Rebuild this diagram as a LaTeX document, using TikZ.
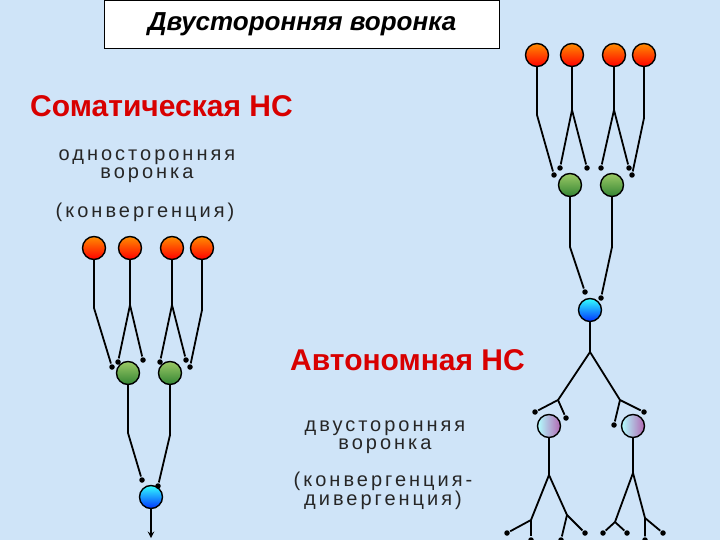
\documentclass[tikz,border=0pt]{standalone}
\usepackage{fontspec}
\setmainfont{Liberation Sans}
\newfontfamily\subfont[LetterSpace=15]{Liberation Sans}
\definecolor{bg}{HTML}{CFE4F8}
\definecolor{hdred}{HTML}{D80000}
\begin{document}
\begin{tikzpicture}[x=1pt,y=-1pt,line width=1.8pt,
  cell/.style={circle,draw=black,line width=1.4pt,minimum size=23pt,inner sep=0pt},
  orn/.style={cell,top color=orange!90!yellow,bottom color=red},
  grn/.style={cell,top color=green!30!olive!60!white,bottom color=green!40!black!80},
  blu/.style={cell,top color=cyan!80,bottom color=blue!80!cyan},
  pur/.style={cell,left color=cyan!30,right color=violet!60},
  syn/.style={circle,fill=black,inner sep=0pt,minimum size=5.5pt},
  hd/.style={text=hdred,font=\bfseries\fontsize{30}{32}\selectfont},
  sub/.style={align=center,text=black!85,font=\subfont\fontsize{20}{18}\selectfont}]
\fill[bg] (0,0) rectangle (720,540);
\useasboundingbox (0,0) rectangle (720,540);
\node[draw=black,line width=0.8pt,fill=white,minimum width=395pt,minimum height=48pt,font=\bfseries\itshape\fontsize{26}{28}\selectfont] (title) at (302,24) {Двусторонняя воронка};
\node[hd,anchor=west] (som) at (26,106) {Соматическая НС};
\node[sub] (t1) at (147,166) {односторонняя\\воронка};
\node[sub] (t2) at (145,212) {(конвергенция)};
\node[hd,anchor=west] (aut) at (286,360) {Автономная НС};
\node[sub] (t3) at (385,437) {двусторонняя\\воронка};
\node[sub] (t4) at (383,491) {(конвергенция-\\дивергенция)};
% left tree
\foreach \n/\x in {a/94,b/130,c/172,d/202} \node[orn] (Lo\n) at (\x,248) {};
\node[grn] (Lg1) at (128,373) {}; \node[grn] (Lg2) at (170,373) {};
\node[blu] (Lbl) at (151,497) {};
\foreach \n/\p in {s1/{112,367},s2/{118,362},s3/{143,360},s4/{160,362},s5/{186,360},s6/{190,367},s7/{142,480},s8/{158,486}} \node[syn] (L\n) at (\p) {};
\coordinate (Lk1) at (94,308); \coordinate (Lk2) at (130,305); \coordinate (Lk3) at (172,305); \coordinate (Lk4) at (202,310);
\coordinate (Lk5) at (128,433); \coordinate (Lk6) at (170,435); \coordinate (Lend) at (151,538);
\draw (Loa) -- (Lk1) -- (Ls1);
\draw (Lob) -- (Lk2) -- (Ls2); \draw (Lk2) -- (Ls3);
\draw (Loc) -- (Lk3) -- (Ls4); \draw (Lk3) -- (Ls5);
\draw (Lod) -- (Lk4) -- (Ls6);
\draw (Lg1) -- (Lk5) -- (Ls7);
\draw (Lg2) -- (Lk6) -- (Ls8);
\draw[-stealth] (Lbl) -- (Lend);
% right tree
\foreach \n/\x in {a/537,b/572,c/614,d/644} \node[orn] (Ro\n) at (\x,55) {};
\node[grn] (Rg1) at (570,185) {}; \node[grn] (Rg2) at (612,185) {};
\node[blu] (Rbl) at (590,310) {};
\node[pur] (Rp1) at (549,426) {}; \node[pur] (Rp2) at (633,426) {};
\foreach \n/\p in {s1/{554,175},s2/{560,168},s3/{587,168},s4/{601,168},s5/{629,168},s6/{632,175},s7/{585,292},s8/{601,298},
  s9/{535,412},s10/{566,418},s11/{614,425},s12/{644,412},
  e1/{507,533},e2/{531,540},e3/{561,540},e4/{585,533},e5/{603,533},e6/{627,533},e7/{645,540},e8/{663,533}} \node[syn] (R\n) at (\p) {};
\coordinate (Rk1) at (537,115); \coordinate (Rk2) at (572,110); \coordinate (Rk3) at (614,110); \coordinate (Rk4) at (644,118);
\coordinate (Rk5) at (570,247); \coordinate (Rk6) at (612,247);
\coordinate (Rm) at (590,352); \coordinate (Rml) at (558,400); \coordinate (Rmr) at (620,400);
\coordinate (Rq1) at (549,475); \coordinate (Rq2) at (633,473);
\coordinate (Rf1) at (531,520); \coordinate (Rf2) at (567,515); \coordinate (Rf3) at (615,522); \coordinate (Rf4) at (645,518);
\draw (Roa) -- (Rk1) -- (Rs1);
\draw (Rob) -- (Rk2) -- (Rs2); \draw (Rk2) -- (Rs3);
\draw (Roc) -- (Rk3) -- (Rs4); \draw (Rk3) -- (Rs5);
\draw (Rod) -- (Rk4) -- (Rs6);
\draw (Rg1) -- (Rk5) -- (Rs7);
\draw (Rg2) -- (Rk6) -- (Rs8);
\draw (Rbl) -- (Rm) -- (Rml) -- (Rs9); \draw (Rml) -- (Rs10);
\draw (Rm) -- (Rmr) -- (Rs12); \draw (Rmr) -- (Rs11);
\draw (Rp1) -- (Rq1) -- (Rf1) -- (Re1); \draw (Rf1) -- (Re2);
\draw (Rq1) -- (Rf2) -- (Re3); \draw (Rf2) -- (Re4);
\draw (Rp2) -- (Rq2) -- (Rf3) -- (Re5); \draw (Rf3) -- (Re6);
\draw (Rq2) -- (Rf4) -- (Re7); \draw (Rf4) -- (Re8);
\end{tikzpicture}
\end{document}
